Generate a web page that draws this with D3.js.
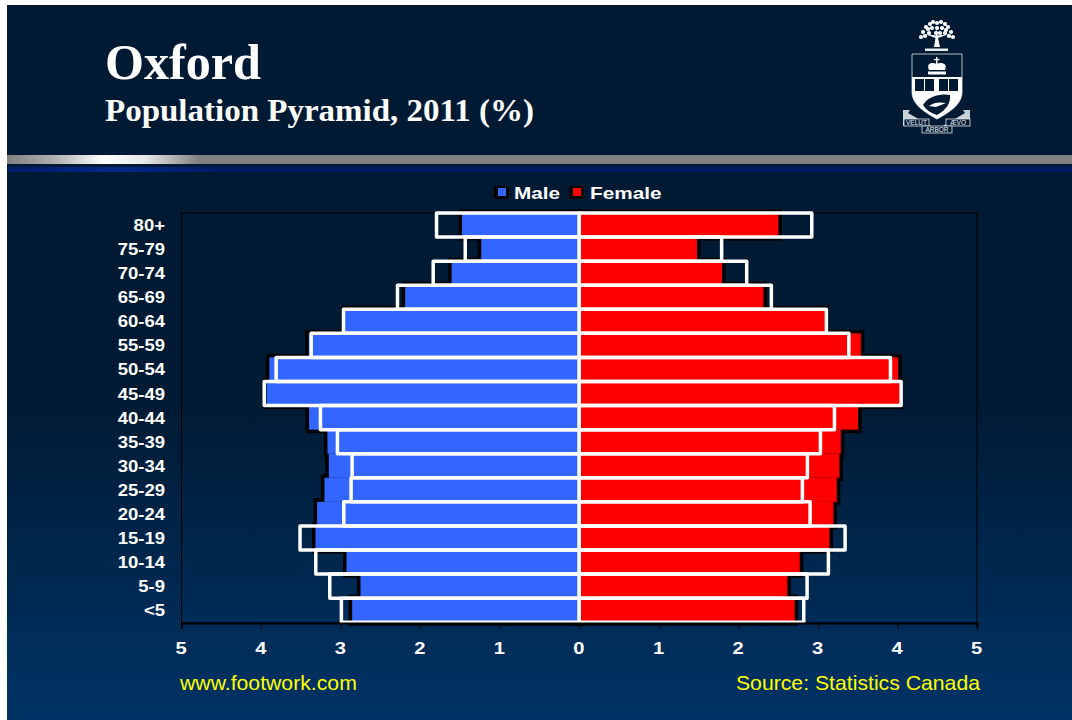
<!DOCTYPE html>
<html><head><meta charset="utf-8">
<script src="https://cdnjs.cloudflare.com/ajax/libs/d3/7.8.5/d3.min.js"></script>
<style>html,body{margin:0;padding:0;background:#fff}svg{display:block}</style>
</head><body><div id="chart"></div>
<script>
const ageGroups = ["80+","75-79","70-74","65-69","60-64","55-59","50-54","45-49","40-44","35-39","30-34","25-29","20-24","15-19","10-14","5-9","<5"];
const maleValues = [1.475,1.232,1.605,2.188,2.95,3.40,3.895,3.93,3.396,3.165,3.148,3.203,3.295,3.316,2.926,2.75,2.855];
const femaleValues = [2.503,1.48,1.795,2.315,3.09,3.54,4.01,4.025,3.506,3.288,3.271,3.237,3.195,3.145,2.772,2.616,2.709];
const maleOutline = [1.794,1.433,1.836,2.285,2.964,3.37,3.81,3.96,3.253,3.04,2.855,2.868,2.96,3.51,3.312,3.136,2.99];
const femaleOutline = [2.923,1.79,2.105,2.415,3.107,3.389,3.912,4.046,3.208,3.032,2.868,2.805,2.902,3.342,3.132,2.864,2.822];
const tickValues = [-5,-4,-3,-2,-1,0,1,2,3,4,5];

const W = 1072, H = 720;
const SANS = "'Liberation Sans',Arial,sans-serif";
const svg = d3.select("#chart").append("svg").attr("width", W).attr("height", H);
const defs = svg.append("defs");
const bg = defs.append("linearGradient").attr("id","bg").attr("x1",0).attr("y1",0).attr("x2",0).attr("y2",1);
[[0,"#001a33"],[0.55,"#001a33"],[1,"#003366"]].forEach(s=>bg.append("stop").attr("offset",s[0]).attr("stop-color",s[1]));
const st = defs.append("linearGradient").attr("id","stripe");
[[0,"#808080"],[0.045,"#b0b0b0"],[0.09,"#ffffff"],[0.13,"#e8e8e8"],[0.18,"#808080"],[1,"#808080"]].forEach(s=>st.append("stop").attr("offset",s[0]).attr("stop-color",s[1]));
const st2 = defs.append("linearGradient").attr("id","stripe2");
[[0,"#001a66"],[0.1,"#002a8a"],[0.2,"#001a66"],[1,"#001a66"]].forEach(s=>st2.append("stop").attr("offset",s[0]).attr("stop-color",s[1]));

function stretch(sel, f){
  sel.each(function(){
    const n = this.getComputedTextLength();
    d3.select(this).attr("textLength", n*f).attr("lengthAdjust","spacingAndGlyphs");
  });
  return sel;
}

svg.append("rect").attr("x",7).attr("y",5).attr("width",W-7).attr("height",H-5).attr("fill","url(#bg)");
svg.append("rect").attr("x",7).attr("y",155).attr("width",W-7).attr("height",9).attr("fill","url(#stripe)");
svg.append("rect").attr("x",7).attr("y",167).attr("width",W-7).attr("height",5).attr("fill","url(#stripe2)");

svg.append("text").text("Oxford").attr("x",105).attr("y",79)
  .attr("font-family","'Liberation Serif',serif").attr("font-weight","bold").attr("font-size",50).attr("fill","#fff")
  .attr("textLength",156).attr("lengthAdjust","spacingAndGlyphs");
svg.append("text").text("Population Pyramid, 2011 (%)").attr("x",105).attr("y",121)
  .attr("font-family","'Liberation Serif',serif").attr("font-weight","bold").attr("font-size",31).attr("fill","#fff")
  .attr("textLength",429).attr("lengthAdjust","spacingAndGlyphs");

// Crest
const logo = svg.append("g");
const treeDots = [[921,37],[923,32],[926,27],[930,24],[933,22],[937,23],[941,22],[945,24],[948,27],[951,32],[953,37],[925,36],[929,33],[932,28],[937,28],[942,28],[945,33],[949,36],[928,29],[946,30],[936,33],[940,33]];
logo.selectAll("circle.leaf").data(treeDots).join("circle").attr("class","leaf").attr("cx",d=>d[0]).attr("cy",d=>d[1]).attr("r",2.1).attr("fill","#fff");
logo.append("path").attr("d","M934 47 L935.5 38 L925 34 L936 35.5 L936.5 28 L937.5 35.5 L949 34 L938 38 L940 47 Z").attr("fill","#fff");
logo.append("rect").attr("x",925).attr("y",48.5).attr("width",23).attr("height",2.5).attr("fill","#e8edf2");
logo.append("path").attr("d","M912 54 H962 V92 C962 104 950 112 937 119 C924 112 912 104 912 92 Z").attr("fill","none").attr("stroke","#dfe6ee").attr("stroke-width",0.8);
logo.append("path").attr("d","M912 77 H962 V92 C962 104 950 112 937 119 C924 112 912 104 912 92 Z").attr("fill","#fff");
logo.append("path").attr("d","M929 70 C926 63 932 62 936.7 64 C941 62 948 63 945 70 Z").attr("fill","#fff");
logo.append("rect").attr("x",936).attr("y",57).attr("width",1.5).attr("height",7).attr("fill","#fff");
logo.append("rect").attr("x",934).attr("y",59).attr("width",5.5).attr("height",1.2).attr("fill","#fff");
logo.append("rect").attr("x",928).attr("y",71.5).attr("width",18).attr("height",3).attr("fill","#fff");
[[915,9],[925,9],[939,9],[949,9]].forEach(b=>logo.append("rect").attr("x",b[0]).attr("y",79).attr("width",b[1]).attr("height",12).attr("fill","#001a33"));
logo.append("path").attr("d","M923 105 C927 97 940 93 950 95 C951 103 946 110 937 115 C931 113 926 110 923 105 Z").attr("fill","#001a33");
logo.append("path").attr("d","M929 106 C934 102 940 102 946 103 L936 107 Z").attr("fill","#fff");
logo.append("path").attr("d","M903 110 H910 L908 113 L931 126 H903 Z").attr("fill","#c8d0d8");
logo.append("path").attr("d","M970 110 H963 L965 113 L943 126 H970 Z").attr("fill","#c8d0d8");
[[904,119,25,7],[946,119,24,7],[922,126,30,7]].forEach(b=>logo.append("rect").attr("x",b[0]).attr("y",b[1]).attr("width",b[2]).attr("height",b[3]).attr("fill","#001a33").attr("stroke","#dfe6ee").attr("stroke-width",0.8));
[["VELUT",916.5,125],["ÆVO",958,125],["ARBOR",937,132]].forEach(t=>logo.append("text").text(t[0]).attr("x",t[1]).attr("y",t[2]).attr("text-anchor","middle").attr("font-family",SANS).attr("font-size",6.5).attr("fill","#e8edf2"));

// Scales
const x = d3.scaleLinear().domain([-5,5]).range([181.5,977]);
const y = d3.scaleBand().domain(ageGroups).range([213,622.2]);
const plotBottom = 623;

svg.append("rect").attr("x",x(-5)).attr("y",213).attr("width",x(5)-x(-5)).attr("height",plotBottom-213)
  .attr("fill","none").attr("stroke","#000").attr("stroke-width",1);

const series = [
  {name:"Male", vals:maleValues, out:maleOutline, sign:-1, color:"#3366ff"},
  {name:"Female", vals:femaleValues, out:femaleOutline, sign:1, color:"#ff0000"}
];
function barX(v,s){return Math.min(x(0),x(s*v));}
function barW(v,s){return Math.abs(x(s*v)-x(0));}

series.forEach(s=>{
  svg.append("g").selectAll("rect").data(s.vals).join("rect")
    .attr("x",d=>barX(d,s.sign)).attr("y",(d,i)=>y(ageGroups[i]))
    .attr("width",d=>barW(d,s.sign)).attr("height",y.bandwidth())
    .attr("fill","#000").attr("stroke","#000").attr("stroke-width",7);
});
series.forEach(s=>{
  svg.append("g").selectAll("rect").data(s.vals).join("rect")
    .attr("x",d=>barX(d,s.sign)).attr("y",(d,i)=>y(ageGroups[i]))
    .attr("width",d=>barW(d,s.sign)).attr("height",y.bandwidth())
    .attr("fill",s.color);
});
series.forEach(s=>{
  svg.append("g").selectAll("rect").data(s.out).join("rect")
    .attr("x",d=>barX(d,s.sign)).attr("y",(d,i)=>y(ageGroups[i]))
    .attr("width",d=>barW(d,s.sign)).attr("height",y.bandwidth())
    .attr("fill","none").attr("stroke","#fff").attr("stroke-width",3.5).attr("stroke-linejoin","round");
});

// Axis
const axis = d3.axisBottom(x).tickValues(tickValues).tickFormat(d=>Math.abs(d)).tickSize(6).tickPadding(13);
const gx = svg.append("g").attr("transform",`translate(0,${plotBottom})`).call(axis);
gx.selectAll(".domain").attr("stroke","#000").attr("stroke-width",2);
gx.selectAll(".tick line").attr("stroke","#000");
stretch(gx.selectAll("text").attr("font-family",SANS).attr("font-weight","bold").attr("font-size",16.5).attr("fill","#fff").attr("dx",-0.8),1.22);

// Category labels
stretch(svg.append("g").selectAll("text").data(ageGroups).join("text").text(d=>d)
  .attr("x",165).attr("y",d=>y(d)+y.bandwidth()/2+6).attr("text-anchor","end")
  .attr("font-family",SANS).attr("font-weight","bold").attr("font-size",16.5).attr("fill","#fff"),1.12);

// Legend
const legendX = [[494,514,"Male","#3366ff"],[569,590,"Female","#ff0000"]];
legendX.forEach(l=>{
  svg.append("rect").attr("x",l[0]).attr("y",186).attr("width",15).attr("height",13).attr("rx",2).attr("fill","#000");
  svg.append("rect").attr("x",l[0]+4).attr("y",188).attr("width",8).attr("height",8).attr("fill",l[3]);
  stretch(svg.append("text").text(l[2]).attr("x",l[1]).attr("y",198.5)
    .attr("font-family",SANS).attr("font-weight","bold").attr("font-size",17).attr("fill","#fff"),1.22);
});

// Footer
stretch(svg.append("text").text("www.footwork.com").attr("x",180).attr("y",689.5)
  .attr("font-family",SANS).attr("font-size",21).attr("fill","#ffff00"),1.01);
stretch(svg.append("text").text("Source: Statistics Canada").attr("x",980).attr("y",689.5).attr("text-anchor","end")
  .attr("font-family",SANS).attr("font-size",21).attr("fill","#ffff00"),1.01);
</script></body></html>
